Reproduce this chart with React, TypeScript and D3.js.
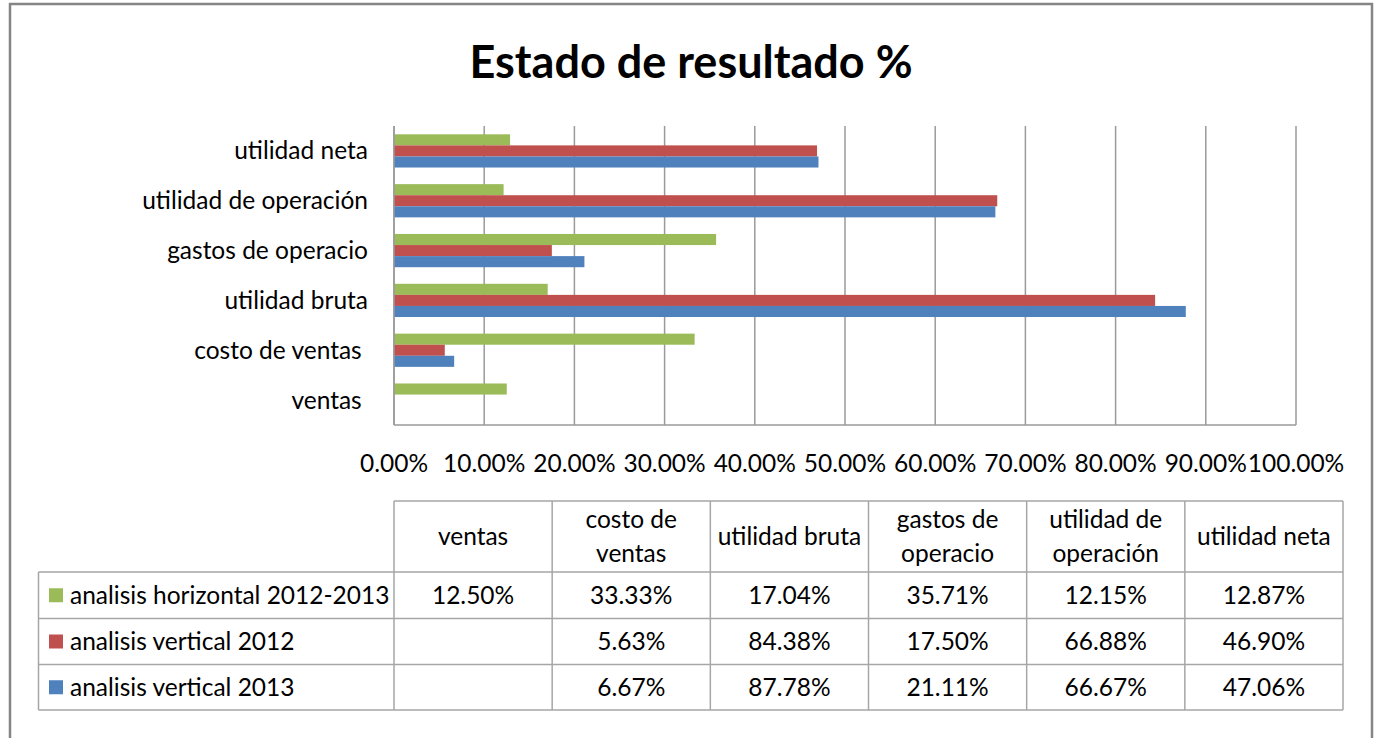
import React, { useRef, useEffect } from 'react'
import * as d3 from 'd3'

const categories = ['ventas ', 'costo de ventas ', 'utilidad bruta', 'gastos de operacio', 'utilidad de operación', 'utilidad neta']
const tableHeaders = [['ventas'], ['costo de', 'ventas'], ['utilidad bruta'], ['gastos de', 'operacio'], ['utilidad de', 'operación'], ['utilidad neta']]
const seriesNames = ['analisis horizontal 2012-2013', 'analisis vertical 2012', 'analisis vertical 2013']
const horizontal1213 = [12.50, 33.33, 17.04, 35.71, 12.15, 12.87]
const vertical2012 = [null, 5.63, 84.38, 17.50, 66.88, 46.90]
const vertical2013 = [null, 6.67, 87.78, 21.11, 66.67, 47.06]
const seriesColors = ['#9BBB59', '#C0504D', '#4F81BD']

const FONT = 'Lato, "Open Sans", sans-serif'
const FS = '24.5px'

const App = () => {
    const ref = useRef(null)
    useEffect(() => {
        const w = 1376
        const h = 738
        const svg = d3.select(ref.current)
            .attr('width', w)
            .attr('height', h)
        svg.selectAll('*').remove()

        const series = [horizontal1213, vertical2012, vertical2013]

        // outer frame
        svg.append('rect')
            .attr('x', 10).attr('y', 4)
            .attr('width', 1362).attr('height', 800)
            .attr('fill', 'white')
            .attr('stroke', '#858585')
            .attr('stroke-width', 2.5)

        // title
        svg.append('text')
            .attr('x', 691).attr('y', 78)
            .attr('text-anchor', 'middle')
            .style('font-family', FONT)
            .style('font-weight', 'bold')
            .style('font-size', '45px')
            .style('fill', '#000')
            .text('Estado de resultado %')

        // scales
        const x = d3.scaleLinear().domain([0, 100]).range([394, 1296])
        const y0 = d3.scaleBand().domain(categories).range([425, 126])
        const y1 = d3.scaleBand().domain(seriesNames).range([0, y0.bandwidth()]).paddingOuter(0.75)

        // gridlines
        svg.append('g')
            .selectAll('line')
            .data(x.ticks(10))
            .join('line')
            .attr('x1', d => x(d)).attr('x2', d => x(d))
            .attr('y1', 126).attr('y2', 425)
            .attr('stroke', '#9a9a9a')
            .attr('stroke-width', 1.5)

        // bars
        const groups = svg.append('g')
            .selectAll('g')
            .data(categories)
            .join('g')
            .attr('transform', d => `translate(0, ${y0(d)})`)
        groups.selectAll('rect')
            .data((d, i) => seriesNames.map((s, k) => ({ s, k, v: series[k][i] })).filter(e => e.v != null))
            .join('rect')
            .attr('x', x(0))
            .attr('y', e => y1(e.s))
            .attr('width', e => x(e.v) - x(0))
            .attr('height', y1.bandwidth())
            .attr('fill', e => seriesColors[e.k])

        // axes lines
        svg.append('line')
            .attr('x1', x(0)).attr('x2', x(0)).attr('y1', 126).attr('y2', 425)
            .attr('stroke', '#9a9a9a').attr('stroke-width', 1.5)
        svg.append('line')
            .attr('x1', x(0)).attr('x2', x(100)).attr('y1', 425).attr('y2', 425)
            .attr('stroke', '#9a9a9a').attr('stroke-width', 1.5)

        // category labels
        svg.append('g')
            .selectAll('text')
            .data(categories)
            .join('text')
            .attr('x', 368)
            .attr('y', d => y0(d) + y0.bandwidth() / 2)
            .attr('dy', '0.35em')
            .attr('text-anchor', 'end')
            .style('font-family', FONT)
            .style('font-size', FS)
            .style('white-space', 'pre')
            .style('fill', '#000')
            .text(d => d)

        // x tick labels
        svg.append('g')
            .selectAll('text')
            .data(x.ticks(10))
            .join('text')
            .attr('x', d => x(d))
            .attr('y', 472)
            .attr('text-anchor', 'middle')
            .style('font-family', FONT)
            .style('font-size', FS)
            .style('fill', '#000')
            .text(d => `${d3.format('.2f')(d)}%`)

        // data table
        const col = d3.scaleBand().domain(categories).range([394, 1343])
        const rowTops = [501, 572, 618.5, 664.5, 710]
        const left = 38.5
        const tbl = svg.append('g')
        const lineColor = '#a6a6a6'
        tbl.append('line')
            .attr('x1', col.range()[0]).attr('x2', col.range()[1])
            .attr('y1', rowTops[0]).attr('y2', rowTops[0])
            .attr('stroke', lineColor).attr('stroke-width', 1.5)
        tbl.selectAll('.hline')
            .data(rowTops.slice(1))
            .join('line')
            .attr('class', 'hline')
            .attr('x1', left).attr('x2', col.range()[1])
            .attr('y1', d => d).attr('y2', d => d)
            .attr('stroke', lineColor).attr('stroke-width', 1.5)
        tbl.selectAll('.vline')
            .data(categories.map(c => col(c)).concat([col.range()[1]]))
            .join('line')
            .attr('class', 'vline')
            .attr('x1', d => d).attr('x2', d => d)
            .attr('y1', rowTops[0]).attr('y2', rowTops[4])
            .attr('stroke', lineColor).attr('stroke-width', 1.5)
        tbl.append('line')
            .attr('x1', left).attr('x2', left)
            .attr('y1', rowTops[1]).attr('y2', rowTops[4])
            .attr('stroke', lineColor).attr('stroke-width', 1.5)

        // header texts
        const headerMid = (rowTops[0] + rowTops[1]) / 2
        tbl.selectAll('.hdr')
            .data(categories)
            .join('text')
            .attr('class', 'hdr')
            .attr('text-anchor', 'middle')
            .style('font-family', FONT)
            .style('font-size', FS)
            .style('fill', '#000')
            .each(function (d, i) {
                const lines = tableHeaders[i]
                d3.select(this).selectAll('tspan')
                    .data(lines)
                    .join('tspan')
                    .attr('x', col(d) + col.bandwidth() / 2)
                    .attr('y', (l, j) => headerMid + (j - (lines.length - 1) / 2) * 34)
                    .attr('dy', '0.35em')
                    .text(l => l)
            })

        // rows
        seriesNames.forEach((s, k) => {
            const mid = (rowTops[k + 1] + rowTops[k + 2]) / 2
            tbl.append('rect')
                .attr('x', 49).attr('y', mid - 7)
                .attr('width', 14).attr('height', 14)
                .attr('fill', seriesColors[k])
            tbl.append('text')
                .attr('x', 70).attr('y', mid)
                .attr('dy', '0.35em')
                .style('font-family', FONT)
                .style('font-size', FS)
                .style('fill', '#000')
                .text(s)
            tbl.selectAll(`.val${k}`)
                .data(categories.map((c, i) => ({ c, v: series[k][i] })).filter(e => e.v != null))
                .join('text')
                .attr('class', `val${k}`)
                .attr('x', e => col(e.c) + col.bandwidth() / 2)
                .attr('y', mid)
                .attr('dy', '0.35em')
                .attr('text-anchor', 'middle')
                .style('font-family', FONT)
                .style('font-size', FS)
                .style('fill', '#000')
                .text(e => `${d3.format('.2f')(e.v)}%`)
        })
    }, [])
    return (
        <div>
            <svg ref={ref} style={{ position: 'absolute', left: 0, top: 0 }}></svg>
        </div>
    )
}

export default App
